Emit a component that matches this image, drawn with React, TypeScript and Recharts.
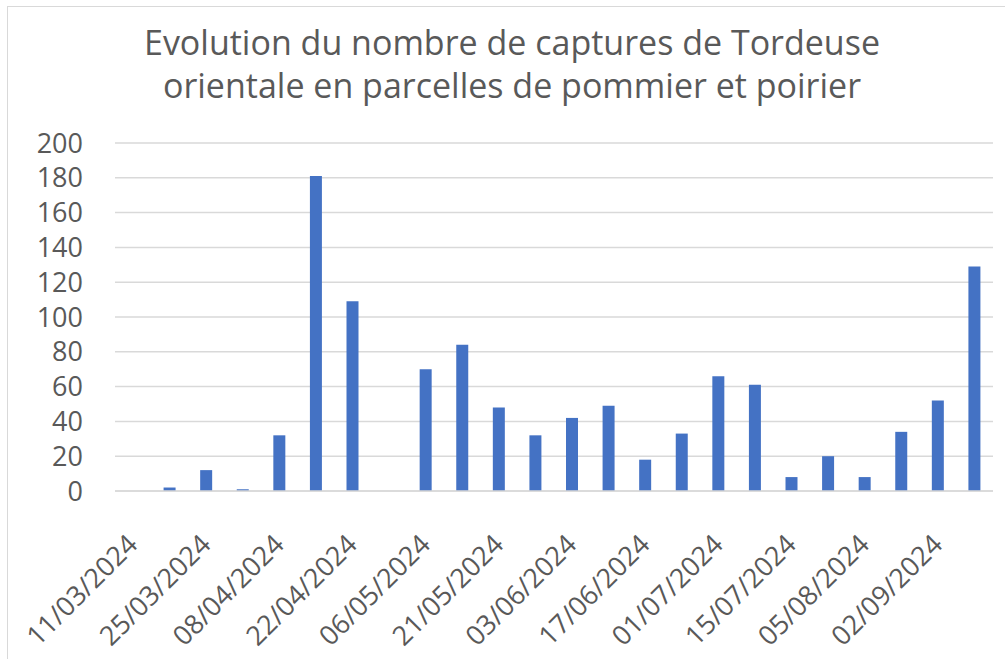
import React from "react";
import { BarChart, Bar, XAxis, YAxis, CartesianGrid } from "recharts";

const dates = [
  "11/03/2024", "18/03/2024", "25/03/2024", "01/04/2024", "08/04/2024", "15/04/2024",
  "22/04/2024", "29/04/2024", "06/05/2024", "13/05/2024", "21/05/2024", "27/05/2024",
  "03/06/2024", "10/06/2024", "17/06/2024", "24/06/2024", "01/07/2024", "08/07/2024",
  "15/07/2024", "22/07/2024", "05/08/2024", "19/08/2024", "02/09/2024", "09/09/2024",
];
const captures = [0, 2, 12, 1, 32, 181, 109, 0, 70, 84, 48, 32, 42, 49, 18, 33, 66, 61, 8, 20, 8, 34, 52, 129];
const yTicks = [0, 20, 40, 60, 80, 100, 120, 140, 160, 180, 200];
const titleLines = [
  "Evolution du nombre de captures de Tordeuse",
  "orientale en parcelles de pommier et poirier",
];

const data = dates.map((d, i) => ({ date: d, value: captures[i] }));

const FONT = "'Open Sans', sans-serif";
const TEXT = "#595959";

const XTick = (props: any) => {
  const { x, y, payload } = props;
  return (
    <g transform={`translate(${x + 6},${y + 47})`}>
      <text
        x={0}
        y={0}
        textAnchor="end"
        transform="rotate(-45)"
        fill={TEXT}
        fontSize={27}
        fontFamily={FONT}
      >
        {payload.value}
      </text>
    </g>
  );
};

export default function App() {
  return (
    <div style={{ position: "absolute", left: 0, top: 0, width: 1005, height: 659, background: "#fff", overflow: "hidden" }}>
      <div
        style={{
          position: "absolute",
          left: 7,
          top: 6,
          width: 1100,
          height: 800,
          borderTop: "1.5px solid #d9d9d9",
          borderLeft: "1.5px solid #d9d9d9",
        }}
      />
      <div
        style={{
          position: "absolute",
          left: 0,
          top: 21,
          width: 1024,
          textAlign: "center",
          fontFamily: FONT,
          fontSize: 34,
          lineHeight: "43px",
          color: TEXT,
        }}
      >
        {titleLines.map((t) => (
          <div key={t}>{t}</div>
        ))}
      </div>
      <div style={{ position: "absolute", left: 0, top: 0 }}>
        <BarChart
          width={1005}
          height={659}
          data={data}
          margin={{ top: 143, right: 12, bottom: 0, left: 0 }}
          barCategoryGap={0}
        >
          <CartesianGrid vertical={false} stroke="#d9d9d9" strokeWidth={1.5} />
          <XAxis
            dataKey="date"
            interval={1}
            tickLine={false}
            axisLine={{ stroke: "#d9d9d9", strokeWidth: 1.5 }}
            tick={<XTick />}
            height={168}
          />
          <YAxis
            width={115}
            domain={[0, 200]}
            ticks={yTicks}
            tickLine={false}
            axisLine={false}
            tickSize={0}
            tickMargin={32}
            tick={{ fill: TEXT, fontSize: 27, fontFamily: FONT }}
            interval={0}
          />
          <Bar dataKey="value" fill="#4472C4" barSize={12} isAnimationActive={false} />
        </BarChart>
      </div>
    </div>
  );
}
